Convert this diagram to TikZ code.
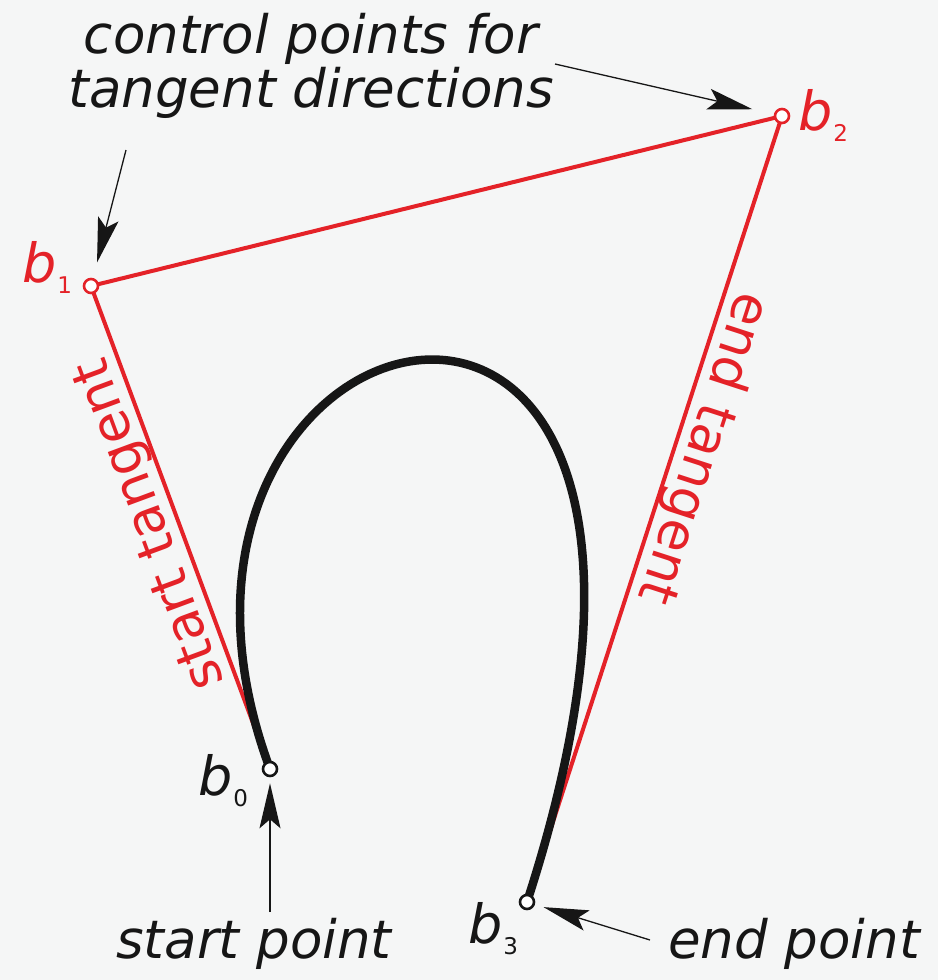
\documentclass[tikz,border=0pt]{standalone}
\usepackage{fontspec}
\setmainfont{DejaVu Sans}
\usetikzlibrary{arrows.meta}
\definecolor{bred}{RGB}{228,34,40}
\definecolor{bg}{RGB}{245,246,246}
\definecolor{ink}{RGB}{22,22,22}
\newcommand{\bsub}[2]{\textit{b}\hspace{1pt}\raisebox{-11pt}{\fontsize{23}{23}\selectfont #2}}
\begin{document}
\begin{tikzpicture}[x=1pt,y=-1pt,
  ctrl/.style={circle,draw=bred,fill=white,line width=2.6pt,inner sep=0pt,minimum size=14pt},
  endpt/.style={ctrl,draw=ink},
  lbl/.style={font=\fontsize{53}{56}\selectfont\itshape, text=ink, inner sep=0pt},
  ptlbl/.style={font=\fontsize{54}{56}\selectfont, inner sep=0pt},
  redlbl/.style={font=\fontsize{53}{56}\selectfont, text=bred, inner sep=1pt},
  tang/.style={draw=bred,line width=4pt},
  bez/.style={draw=ink,line width=8.5pt,line cap=round},
  arr/.style={draw=ink,line width=1.3pt,-{Stealth[length=45pt,width=21pt,inset=9pt]}}
]
\fill[bg] (0,0) rectangle (938,980);
\useasboundingbox (0,0) rectangle (938,980);

\coordinate (p0) at (270,769);
\coordinate (p1) at (91,286);
\coordinate (p2) at (782,116);
\coordinate (p3) at (527,902);

% control polygon
\draw[tang] (p0) -- (p1) -- (p2) -- (p3);
% curve
\draw[bez] (p0) .. controls (p1) and (p2) .. (p3);

% point markers
\node[endpt] (b0) at (p0) {};
\node[ctrl] (b1) at (p1) {};
\node[ctrl] (b2) at (p2) {};
\node[endpt] (b3) at (p3) {};

% point labels
\node[ptlbl, text=bred, anchor=base west] (l1) at (22,282) {\bsub{b}{1}};
\node[ptlbl, text=bred, anchor=base west] (l2) at (798,130) {\bsub{b}{2}};
\node[ptlbl, text=ink, anchor=base west] (l0) at (198,795) {\bsub{b}{0}};
\node[ptlbl, text=ink, anchor=base west] (l3) at (468,943) {\bsub{b}{3}};

% tangent labels
\path (p0) -- (p1) node[redlbl, pos=0.526, rotate=110.3, anchor=south] (st) {start tangent};
\path (p2) -- (p3) node[redlbl, pos=0.412, rotate=-108, anchor=south] (et) {end tangent};

% captions
\node[lbl, anchor=base] (t1) at (311,53) {control points for};
\node[lbl, anchor=base] (t2) at (311,107) {tangent directions};
\node[lbl, anchor=base west] (sp) at (116,958) {start point};
\node[lbl, anchor=base west] (ep) at (668,958) {end point};

% arrows
\coordinate (a1) at (126,150);
\coordinate (a2) at (555,64);
\coordinate (a0) at (270,912);
\coordinate (a3) at (650,940);
\draw[arr, shorten >=16pt] (a1) -- (b1);
\draw[arr, shorten >=22pt] (a2) -- (b2);
\draw[arr, shorten >=6pt] (a0) -- (b0);
\draw[arr, shorten >=9pt] (a3) -- (b3);
\end{tikzpicture}
\end{document}
